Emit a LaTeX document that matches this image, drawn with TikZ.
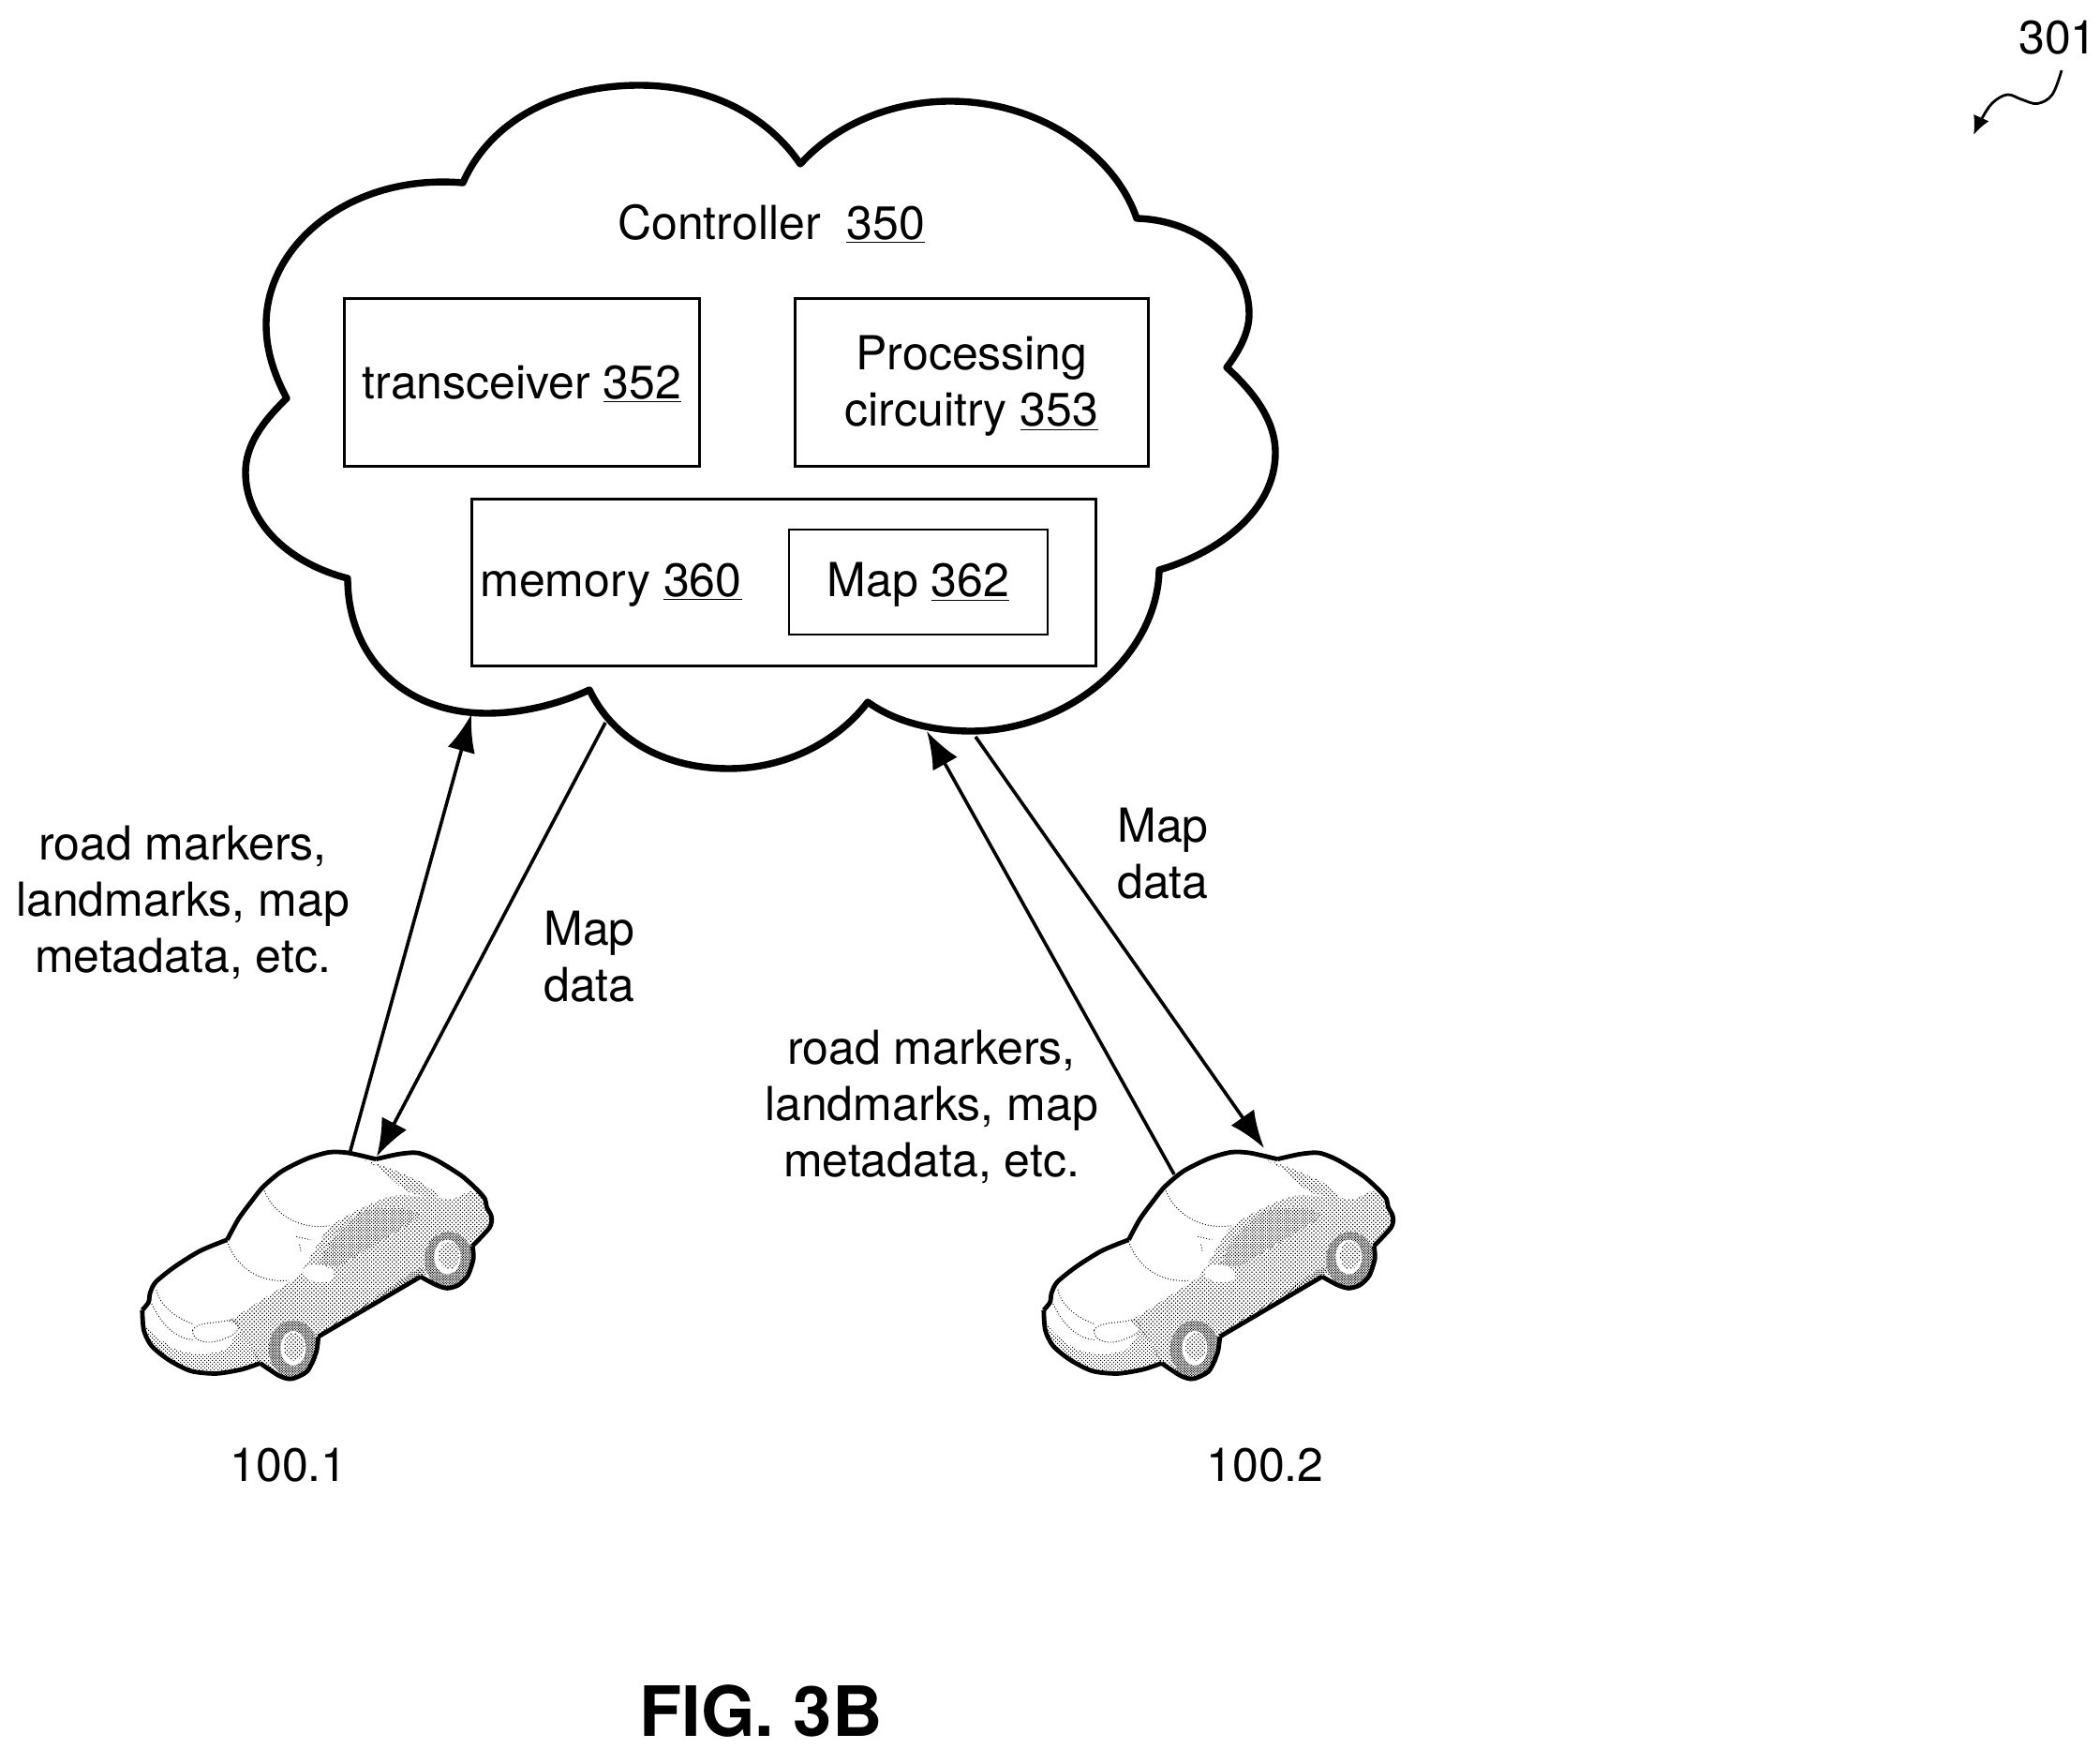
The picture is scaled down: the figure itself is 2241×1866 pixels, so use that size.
\documentclass[tikz,border=0pt]{standalone}
\usepackage{fontspec}
\setmainfont{TeX Gyre Heros}
\usetikzlibrary{arrows.meta,patterns}
\pgfdeclarepatternformonly{stipL}{\pgfqpoint{-.5pt}{-.5pt}}{\pgfqpoint{2.9pt}{2.9pt}}{\pgfqpoint{2.2pt}{2.2pt}}{%
 \pgfpathrectangle{\pgfqpoint{0pt}{0pt}}{\pgfqpoint{.6pt}{.6pt}}%
 \pgfpathrectangle{\pgfqpoint{1.1pt}{1.1pt}}{\pgfqpoint{.6pt}{.6pt}}%
 \pgfusepath{fill}}
\pgfdeclarepatternformonly{stipB}{\pgfqpoint{-.5pt}{-.5pt}}{\pgfqpoint{2.7pt}{2.7pt}}{\pgfqpoint{2pt}{2pt}}{%
 \pgfpathrectangle{\pgfqpoint{0pt}{0pt}}{\pgfqpoint{.6pt}{.6pt}}%
 \pgfpathrectangle{\pgfqpoint{1pt}{1pt}}{\pgfqpoint{.6pt}{.6pt}}%
 \pgfusepath{fill}}
\pgfdeclarepatternformonly{stipM}{\pgfqpoint{-.5pt}{-.5pt}}{\pgfqpoint{2.5pt}{2.5pt}}{\pgfqpoint{1.8pt}{1.8pt}}{%
 \pgfpathrectangle{\pgfqpoint{0pt}{0pt}}{\pgfqpoint{.6pt}{.6pt}}%
 \pgfpathrectangle{\pgfqpoint{.9pt}{.9pt}}{\pgfqpoint{.6pt}{.6pt}}%
 \pgfusepath{fill}}
\pgfdeclarepatternformonly{stipD}{\pgfqpoint{-.5pt}{-.5pt}}{\pgfqpoint{2pt}{2pt}}{\pgfqpoint{1.4pt}{1.4pt}}{%
 \pgfpathrectangle{\pgfqpoint{0pt}{0pt}}{\pgfqpoint{.6pt}{.6pt}}%
 \pgfpathrectangle{\pgfqpoint{.7pt}{.7pt}}{\pgfqpoint{.6pt}{.6pt}}%
 \pgfusepath{fill}}
\tikzset{
 box/.style={draw=black,line width=1.5pt},
 lab/.style={font=\fontsize{25}{30}\selectfont,align=center,inner sep=0pt},
 link/.style={line width=1.8pt,-{Latex[length=20pt,width=15pt]}},
 cloudline/.style={line width=3.7pt,line join=round},
 carline/.style={line width=2.4pt,line join=round},
 thindots/.style={line width=.45pt,dash pattern=on .5pt off 1pt},
 sm/.style={smooth,tension=.45},
}
\newcommand{\drawcar}{%
 \path[fill=white] (65,575) -- (108,485) -- (335,350) -- (450,180) -- (660,70) -- (940,72) -- (1155,220) -- (1175,275) -- (1115,370) -- (1118,410) -- (1035,505) -- (950,468) -- (625,660) -- (540,795) -- (440,745) -- (300,778) -- (150,735) -- (70,640) -- cycle;
 % side of body
 \path[pattern=stipL] plot[sm] coordinates {(340,610) (480,520) (560,465) (620,370) (660,310) (740,260) (860,210) (1000,215) (1050,220) (1110,195) (1155,220) (1175,275) (1170,310) (1115,370) (1118,410) (1035,505) (950,468) (625,660) (540,795) (440,745) (410,690) (375,640)} -- cycle;
 % window
 \fill[white] plot[sm] coordinates {(625,430) (670,345) (760,262) (870,245) (945,272) (870,325) (780,380) (690,435)} -- cycle;
 \path[pattern=stipM] plot[sm] coordinates {(625,430) (670,345) (760,262) (870,245) (945,272) (870,325) (780,380) (690,435)} -- cycle;
 % mirror
 \fill[white,rotate around={-8:(625,458)}] (625,458) ellipse (50 and 28);
 % roof
 \path[pattern=stipL] plot[sm] coordinates {(770,95) (850,120) (950,165) (1005,210) (930,205) (880,175) (820,120)} -- cycle;
 % sill
 \path[pattern=stipB] plot[sm] coordinates {(625,650) (760,565) (940,445) (950,468) (760,580)} -- cycle;
 % bumper
 \path[pattern=stipB] plot[sm] coordinates {(68,610) (100,650) (170,700) (250,715) (330,700) (375,640) (410,690) (440,745) (380,765) (300,778) (220,770) (150,735) (95,690)} -- cycle;
 % wheels
 \fill[white] (545,700) ellipse (78 and 92);
 \path[pattern=stipD] (545,700) ellipse (78 and 92);
 \fill[white] (545,697) ellipse (40 and 55);
 \path[pattern=stipL] (548,692) ellipse (33 and 45);
 \fill[white] (1040,415) ellipse (78 and 90);
 \path[pattern=stipD] (1040,415) ellipse (78 and 90);
 \fill[white] (1035,405) ellipse (42 and 55);
 \path[pattern=stipL] (1040,400) ellipse (33 and 45);
 % dotted detail
 \draw[thindots] (450,185) .. controls (480,270) and (570,320) .. (660,305);
 \draw[thindots] (335,355) .. controls (360,430) and (430,490) .. (530,480);
 \draw[thindots] (225,640) .. controls (240,610) and (300,620) .. (350,605) .. controls (385,620) and (375,650) .. (330,665) .. controls (290,685) and (225,685) .. (225,640);
 \draw[thindots] (110,510) .. controls (120,560) and (170,600) .. (228,620);
 \draw[thindots] (95,555) .. controls (125,620) and (170,665) .. (225,670);
 \draw[thindots] (555,340) -- (600,350);
 \draw[thindots] (565,365) -- (570,390);
 % outline
 \draw[carline] plot[sm] coordinates {(65,575) (85,550) (90,520) (108,485) (170,435) (250,385) (335,350)};
 \draw[carline] plot[sm] coordinates {(335,350) (370,285) (410,230) (450,180) (510,130) (590,90) (660,70) (720,72) (808,92)};
 \draw[carline] plot[sm] coordinates {(808,92) (880,76) (940,72) (1000,95) (1080,145) (1130,190) (1155,220) (1160,245) (1175,275) (1170,310) (1115,370)};
 \draw[carline] plot[sm] coordinates {(1115,370) (1118,410) (1100,465) (1070,495) (1035,505) (1000,495) (950,468)};
 \draw[carline] (950,468) -- (625,660);
 \draw[carline] plot[sm] coordinates {(625,660) (618,710) (590,770) (540,795) (500,785) (440,745)};
 \draw[carline] plot[sm] coordinates {(440,745) (380,765) (300,778) (220,770) (150,735) (95,690) (70,640) (65,575)};
}
\begin{document}
\begin{tikzpicture}[x=.5pt,y=-.5pt]
\useasboundingbox (0,0) rectangle (2241,1866);
\fill[white] (0,0) rectangle (2241,1866);
% cloud
\draw[cloudline] (494,195) .. controls (525,125) and (600,91) .. (682,91) .. controls (760,91) and (820,125) .. (854,175)
 .. controls (895,130) and (955,108) .. (1014,108) .. controls (1110,108) and (1190,165) .. (1213,233)
 .. controls (1280,235) and (1333,280) .. (1333,335) .. controls (1333,355) and (1322,375) .. (1309,392)
 .. controls (1340,420) and (1361,450) .. (1361,483) .. controls (1361,545) and (1300,590) .. (1237,608)
 .. controls (1235,700) and (1140,780) .. (1036,780) .. controls (995,780) and (955,770) .. (926,749)
 .. controls (895,790) and (840,820) .. (778,820) .. controls (710,820) and (655,790) .. (629,736)
 .. controls (595,752) and (555,761) .. (520,761) .. controls (430,761) and (371,700) .. (371,617)
 .. controls (305,600) and (262,555) .. (262,504) .. controls (262,475) and (280,450) .. (306,425)
 .. controls (290,395) and (284,370) .. (284,346) .. controls (284,260) and (375,185) .. (494,195) -- cycle;
% boxes
\draw[box] (367,319) rectangle (746,497);
\draw[box] (848,319) rectangle (1225,497);
\draw[box] (503,532) rectangle (1169,710);
\draw[box,line width=1.2pt] (842,565) rectangle (1118,677);
% cloud labels
\node[lab] (ctl) at (823,239) {Controller\ \ \underline{350}};
\node[lab] (trx) at (557,410) {transceiver \underline{352}};
\node[lab] (prc) at (1037,412) {Processing\\circuitry \underline{353}};
\node[lab] (mem) at (652,624) {memory \underline{360}};
\node[lab] (map) at (980,624) {Map \underline{362}};
% cars
\begin{scope}[shift={(130,1206)},x=.1678pt,y=-.1667pt]\drawcar\end{scope}
\begin{scope}[shift={(1092,1206)},x=.1678pt,y=-.1667pt]\drawcar\end{scope}
% connector ends
\coordinate (car1up) at (373,1231);
\coordinate (car1dn) at (402,1234);
\coordinate (car2up) at (1253,1253);
\coordinate (car2dn) at (1349,1225);
\coordinate (cl1) at (503,762);
\coordinate (cl2) at (646,771);
\coordinate (cl3) at (989,780);
\coordinate (cl4) at (1041,786);
\draw[link] (car1up) -- (cl1);
\draw[link] (cl2) -- (car1dn);
\draw[link] (car2up) -- (cl3);
\draw[link] (cl4) -- (car2dn);
% labels
\node[lab] (l1) at (195,963) {road markers,\\landmarks, map\\metadata, etc.};
\node[lab] (l2) at (629,1021) {Map\\data};
\node[lab] (l3) at (994,1181) {road markers,\\landmarks, map\\metadata, etc.};
\node[lab] (l4) at (1241,911) {Map\\data};
\node[lab] (v1) at (308,1563) {100.1};
\node[lab] (v2) at (1350,1563) {100.2};
\node[inner sep=0pt,font=\fontsize{37}{37}\bfseries\selectfont] (fig) at (812,1826) {FIG. 3B};
\node[lab] (ref) at (2196,40) {301};
\coordinate (refs) at (2200,75);
\coordinate (refe) at (2106,144);
\draw[line width=1.4pt,-{Latex[length=10pt,width=9pt]}] plot[smooth,tension=.6] coordinates {(refs) (2190,101) (2174,110.5) (2157,106) (2142,101) (2126,110) (2114,128) (refe)};
\end{tikzpicture}
\end{document}
